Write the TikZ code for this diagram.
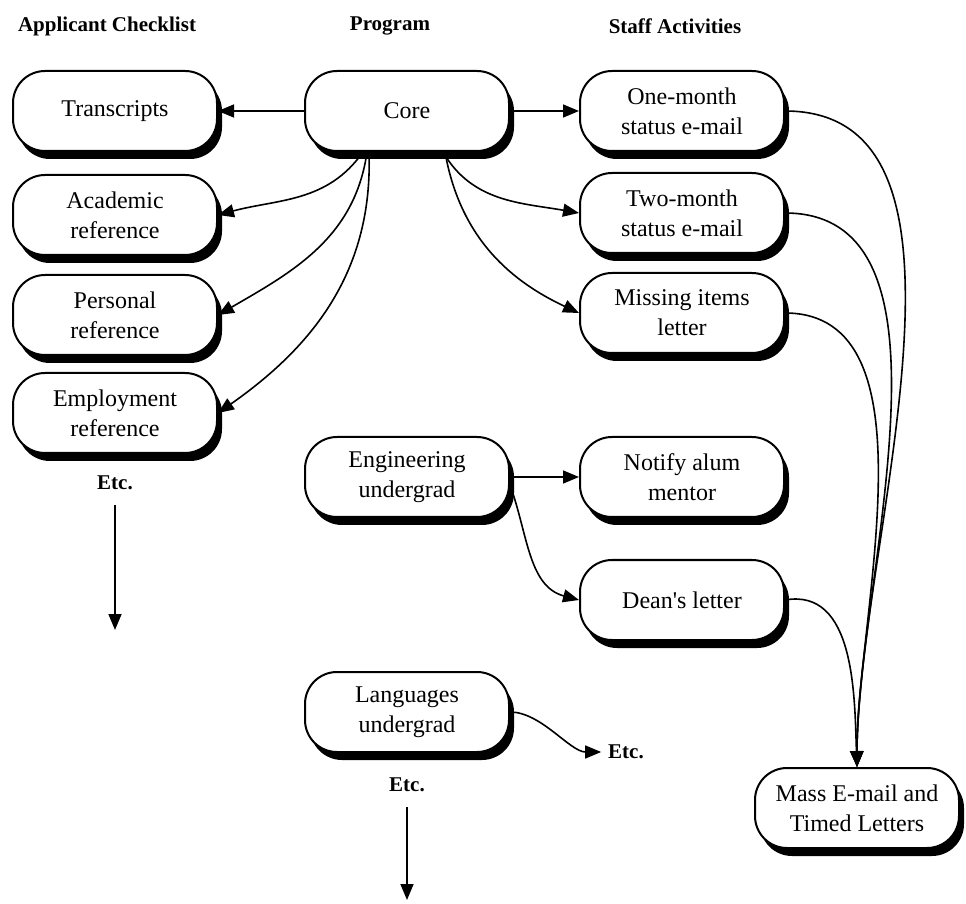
\documentclass[tikz,border=0pt]{standalone}
\usepackage{fontspec}
\setmainfont{Liberation Serif}
\usetikzlibrary{arrows.meta, shadows}

\begin{document}
\begin{tikzpicture}[
                x=0.5pt, y=0.5pt,
                box/.style={draw, line width=1pt, rounded corners=16pt, fill=white, minimum width=102pt, minimum height=40pt, align=center, font=\fontsize{12}{15}\selectfont, drop shadow={shadow xshift=2.5pt, shadow yshift=-4pt, fill=black, opacity=1}},
                head/.style={font=\bfseries\fontsize{10.5}{12}\selectfont},
                link/.style={line width=0.8pt, -{Triangle[length=8pt, width=6.5pt]}},
                etcarrow/.style={link, shorten <=4pt}
            ]
                \useasboundingbox (0,0) rectangle (966,-904);

                % column heads
                \node[head, anchor=west] (hApp) at (11,-26) {Applicant Checklist};
                \node[head] (hProg) at (390,-26) {Program};
                \node[head] (hStaff) at (675,-26) {Staff Activities};

                % applicant checklist
                \node[box] (trans) at (115,-111) {Transcripts};
                \node[box] (acad) at (115,-215) {Academic\\reference};
                \node[box] (pers) at (115,-315) {Personal\\reference};
                \node[box] (empl) at (115,-413) {Employment\\reference};
                \node[head] (etcA) at (115,-483) {Etc.};
                \coordinate (etcAend) at (115,-630);

                % programs
                \node[box] (core) at (407,-111) {Core};
                \node[box] (eng) at (407,-477) {Engineering\\undergrad};
                \node[box] (lang) at (407,-712) {Languages\\undergrad};
                \node[head] (etcB) at (407,-785) {Etc.};
                \coordinate (etcBend) at (407,-900);

                % staff activities
                \node[box] (one) at (682,-111) {One-month\\status e-mail};
                \node[box] (two) at (682,-213) {Two-month\\status e-mail};
                \node[box] (miss) at (682,-313) {Missing items\\letter};
                \node[box] (alum) at (682,-477) {Notify alum\\mentor};
                \node[box] (dean) at (682,-600) {Dean\textquotesingle s letter};
                \node[head] (etcR) at (626,-752) {Etc.};
                \node[box] (mass) at (857,-808) {Mass E-mail and\\Timed Letters};

                \draw[link] (core) -- (trans);
                \draw[link] ([xshift=-22pt]core.south) to[out=235, in=15] (acad.east);
                \draw[link] ([xshift=-20pt]core.south) to[out=262, in=30] (pers.east);
                \draw[link] ([xshift=-19pt]core.south) to[out=272, in=35] (empl.east);
                \draw[link] (core) -- (one);
                \draw[link] ([xshift=18pt]core.south) to[out=-60, in=170] (two.west);
                \draw[link] ([xshift=19pt]core.south) to[out=-80, in=155] (miss.west);

                \draw[link] (eng) -- (alum);
                \draw[link] ([yshift=-4pt]eng.east) to[out=-70, in=165] (dean.west);
                \draw[link] (lang.east) to[out=0, in=180, looseness=0.8] (etcR.west);

                \draw[link] (one.east) to[out=0, in=90, looseness=0.85] (mass.north);
                \draw[link] (two.east) to[out=0, in=90, looseness=0.85] (mass.north);
                \draw[link] (miss.east) to[out=0, in=90, looseness=0.85] (mass.north);
                \draw[link] (dean.east) to[out=10, in=92] (mass.north);

                \draw[etcarrow] (etcA) -- (etcAend);
                \draw[etcarrow] (etcB) -- (etcBend);
            \end{tikzpicture}
\end{document}
